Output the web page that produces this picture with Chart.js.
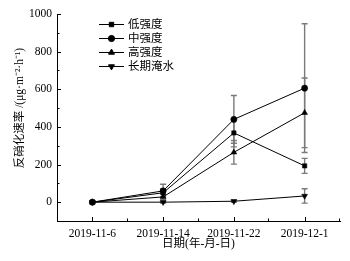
<!DOCTYPE html>
<html>
<head>
<meta charset="utf-8">
<script src="https://cdn.jsdelivr.net/npm/chart.js@4.4.0/dist/chart.umd.min.js"></script>
<style>
  html, body { margin: 0; padding: 0; background: #fff; }
  #wrap { width: 350px; height: 261px; }
</style>
</head>
<body>
<div id="wrap"><canvas id="chart"></canvas></div>
<script>
// data
const dates = ['2019-11-6', '2019-11-14', '2019-11-22', '2019-12-1'];
const seriesNames = ['低强度', '中强度', '高强度', '长期淹水'];
const lowMean = [0, 50, 368, 193];
const lowErr = [0, 20, 74, 40];
const midMean = [0, 60, 440, 606];
const midErr = [0, 35, 127, 342];
const highMean = [0, 28, 265, 475];
const highErr = [0, 15, 63, 185];
const floodMean = [0, 0, 5, 33];
const floodErr = [0, 4, 6, 38];
const yTicks = [0, 200, 400, 600, 800, 1000];

const serif = "'Liberation Serif', 'Times New Roman', serif";
const mixed = "'Liberation Serif', 'Noto Sans CJK SC', serif";

const radius = { rect: 3.1, circle: 3.1, triangle: 3.4 };

function series(label, data, errors, style, rotation) {
    return {
        label: label,
        data: data,
        errors: errors,
        borderColor: '#000',
        borderWidth: 1,
        backgroundColor: '#000',
        pointStyle: style,
        pointRotation: rotation || 0,
        pointRadius: radius[style],
        pointBackgroundColor: '#000',
        pointBorderColor: '#000',
        pointBorderWidth: 0.5,
        tension: 0,
        fill: false
    };
}

// error bars under the lines
const errorBars = {
    id: 'errorBars',
    beforeDatasetsDraw(chart) {
        const { ctx, scales: { x, y } } = chart;
        ctx.save();
        ctx.strokeStyle = '#7a7a7a';
        ctx.lineWidth = 1.4;
        chart.data.datasets.forEach(ds => {
            ds.errors.forEach((e, j) => {
                if (!e) return;
                const px = x.getPixelForValue(j);
                const top = y.getPixelForValue(ds.data[j] + e);
                const bot = y.getPixelForValue(ds.data[j] - e);
                ctx.beginPath();
                ctx.moveTo(px, top); ctx.lineTo(px, bot);
                ctx.moveTo(px - 3, top); ctx.lineTo(px + 3, top);
                ctx.moveTo(px - 3, bot); ctx.lineTo(px + 3, bot);
                ctx.stroke();
            });
        });
        ctx.restore();
    }
};

// inward tick marks, titles and legend
const decorations = {
    id: 'decorations',
    afterDraw(chart) {
        const { ctx, chartArea, scales: { x, y } } = chart;
        ctx.save();
        ctx.strokeStyle = '#000';
        ctx.lineWidth = 1;
        ctx.beginPath();
        for (let v = -100; v <= 1000; v += 100) {
            const py = Math.round(y.getPixelForValue(v)) + 0.5;
            const len = v % 200 === 0 ? 4 : 2.5;
            ctx.moveTo(chartArea.left, py);
            ctx.lineTo(chartArea.left + len, py);
        }
        for (let j = 0; j < dates.length; j++) {
            const px = Math.round(x.getPixelForValue(j)) + 0.5;
            ctx.moveTo(px, chartArea.bottom);
            ctx.lineTo(px, chartArea.bottom - 4);
            const mx = Math.round(x.getPixelForValue(j + 0.5)) - 0.5;
            ctx.moveTo(mx, chartArea.bottom);
            ctx.lineTo(mx, chartArea.bottom - 2.5);
        }
        ctx.stroke();

        // axis titles
        ctx.fillStyle = '#000';
        ctx.font = '11.5px ' + mixed;
        ctx.textAlign = 'center';
        ctx.textBaseline = 'middle';
        ctx.fillText('日期(年-月-日)', (chartArea.left + chartArea.right) / 2, 244);
        ctx.save();
        ctx.translate(20, 108);
        ctx.rotate(-Math.PI / 2);
        ctx.fillText('反硝化速率 /(μg·m⁻²·h⁻¹)', 0, 0);
        ctx.restore();

        // legend
        const rows = [24, 38, 52, 66];
        chart.data.datasets.forEach((ds, i) => {
            const ly = rows[i];
            ctx.beginPath();
            ctx.moveTo(99, ly + 0.5);
            ctx.lineTo(124, ly + 0.5);
            ctx.stroke();
            ctx.fillStyle = '#000';
            Chart.helpers.drawPoint(ctx, {
                pointStyle: ds.pointStyle,
                radius: ds.pointRadius,
                rotation: ds.pointRotation,
                borderWidth: 0.5
            }, 111.5, ly + 0.5);
            ctx.textAlign = 'left';
            ctx.font = '11.5px ' + mixed;
            ctx.fillText(ds.label, 128, ly + 1);
        });
        ctx.restore();
    }
};

const chart = new Chart(document.getElementById('chart'), {
    type: 'line',
    data: {
        labels: dates,
        datasets: [
            series(seriesNames[0], lowMean, lowErr, 'rect'),
            series(seriesNames[1], midMean, midErr, 'circle'),
            series(seriesNames[2], highMean, highErr, 'triangle'),
            series(seriesNames[3], floodMean, floodErr, 'triangle', 180)
        ]
    },
    options: {
        responsive: true,
        maintainAspectRatio: false,
        animation: false,
        layout: { padding: { top: 14, right: 10, left: 0, bottom: 0 } },
        plugins: {
            legend: { display: false },
            tooltip: { enabled: false }
        },
        scales: {
            x: {
                type: 'category',
                offset: true,
                grid: { display: false, drawTicks: false },
                border: { display: true, color: '#000', width: 1 },
                ticks: {
                    color: '#000',
                    padding: 6,
                    maxRotation: 0,
                    font: { family: serif, size: 11.5 }
                },
                afterFit(scale) { scale.height = 40; }
            },
            y: {
                min: -100,
                max: 1000,
                grid: { display: false, drawTicks: false },
                border: { display: true, color: '#000', width: 1 },
                afterBuildTicks(scale) {
                    scale.ticks = yTicks.map(v => ({ value: v }));
                },
                ticks: {
                    color: '#000',
                    padding: 5,
                    font: { family: serif, size: 11.5 },
                    callback: v => String(v)
                },
                afterFit(scale) { scale.width = 57; }
            }
        }
    },
    plugins: [errorBars, decorations]
});
</script>
</body>
</html>
